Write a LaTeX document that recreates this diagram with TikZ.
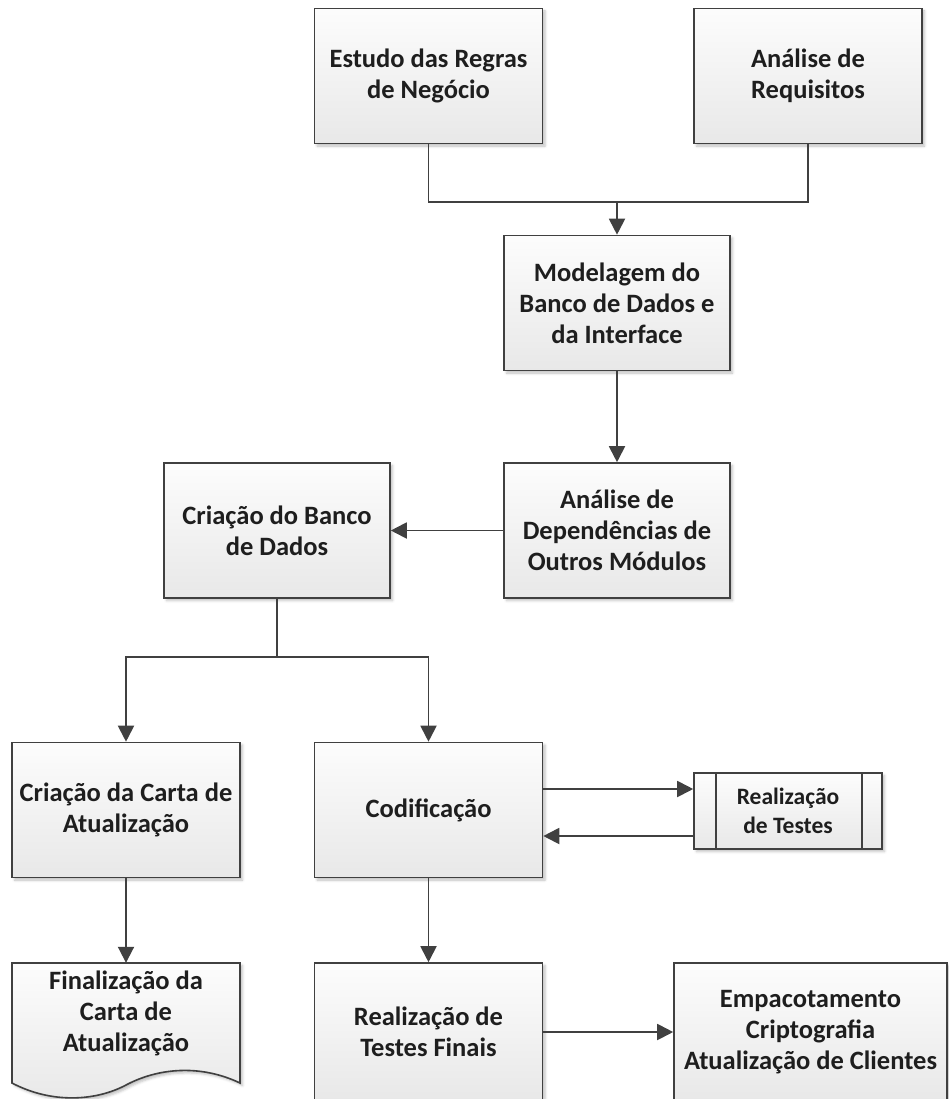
\documentclass[tikz,border=0pt]{standalone}
\usepackage{fontspec}
\setmainfont{Carlito}
\usetikzlibrary{arrows.meta,shadows.blur,calc}

\definecolor{edge}{HTML}{404040}
\definecolor{ink}{HTML}{1E1E1E}

\tikzset{
  boxshade/.style={top color=white!99!black, bottom color=white!91!black},
  softshadow/.style={blur shadow={shadow xshift=2.5pt, shadow yshift=-2.5pt,
      shadow blur radius=2.5pt, shadow opacity=25}},
  stepbox/.style={draw=edge, line width=1.6pt, boxshade, softshadow,
      rectangle, minimum width=228pt, minimum height=135pt, inner sep=0pt,
      align=center, text=ink,
      font=\fontsize{26.5}{31}\selectfont\bfseries},
  arr/.style={draw=edge, line width=1.9pt, -{Triangle[length=16pt,width=16pt]}},
  wire/.style={draw=edge, line width=1.9pt},
}

\begin{document}
\begin{tikzpicture}[x=1pt, y=-1pt]
  \useasboundingbox (0,0) rectangle (949,1099);

  % upper row
  \node[stepbox] (regras) at (428.5,76) {Estudo das Regras\\de Negócio};
  \node[stepbox] (requisitos) at (808,76) {Análise de\\Requisitos};

  % modelling and dependency analysis
  \node[stepbox, minimum width=226pt] (modelagem) at (617,303) {Modelagem do\\Banco de Dados e\\da Interface};
  \node[stepbox, minimum width=226pt] (dependencias) at (617,530.5) {Análise de\\Dependências de\\Outros Módulos};
  \node[stepbox, minimum width=226pt] (banco) at (277,530.5) {Criação do Banco\\de Dados};

  % third row
  \node[stepbox] (carta) at (126,810) {Criação da Carta de\\Atualização};
  \node[stepbox] (codificacao) at (428.5,810) {Codificação};
  \node[stepbox, minimum width=188pt, minimum height=76pt,
        font=\fontsize{23.5}{29}\selectfont\bfseries] (testes) at (788,811) {Realização\\de Testes};
  \draw[edge, line width=1.6pt] ([xshift=23pt]testes.north west) -- ([xshift=23pt]testes.south west);
  \draw[edge, line width=1.6pt] ([xshift=-21pt]testes.north east) -- ([xshift=-21pt]testes.south east);

  % bottom row
  \node[stepbox, minimum height=138pt] (finais) at (428.5,1032) {Realização de\\Testes Finais};
  \node[stepbox, minimum width=273pt, minimum height=138pt] (empacotamento) at (810.5,1032)
        {Empacotamento\\Criptografia\\Atualização de Clientes};

  % document shape with a wavy lower edge
  \path[draw=edge, line width=1.6pt, boxshade, softshadow]
    (12,963) -- (240,963) -- (240,1083)
    .. controls (200,1064) and (158,1068) .. (126,1085)
    .. controls (96,1101) and (52,1104) .. (12,1083) -- cycle;
  \node[align=center, text=ink, font=\fontsize{26.5}{31}\selectfont\bfseries,
        minimum height=100pt, inner sep=0pt] (finalizacao) at (126,1013)
        {Finalização da\\Carta de\\Atualização};

  % connectors
  \coordinate (juncao) at (617,202);
  \draw[wire] (regras.south) |- (juncao) -| (requisitos.south);
  \draw[arr] (juncao) -- (modelagem.north);
  \draw[arr] (modelagem.south) -- (dependencias.north);
  \draw[arr] (dependencias.west) -- (banco.east);

  \coordinate (ramo) at (277,657);
  \draw[wire] (banco.south) -- (ramo);
  \draw[arr] (ramo) -| (carta.north);
  \draw[arr] (ramo) -| (codificacao.north);

  \draw[arr] ([yshift=21pt]codificacao.east) -- ([yshift=21pt]codificacao.east -| testes.west);
  \draw[arr] ([yshift=-26pt]codificacao.east -| testes.west) -- ([yshift=-26pt]codificacao.east);

  \draw[arr] (carta.south) -- (finalizacao.north);
  \draw[arr] (codificacao.south) -- (finais.north);
  \draw[arr] (finais.east) -- (empacotamento.west);
\end{tikzpicture}
\end{document}
